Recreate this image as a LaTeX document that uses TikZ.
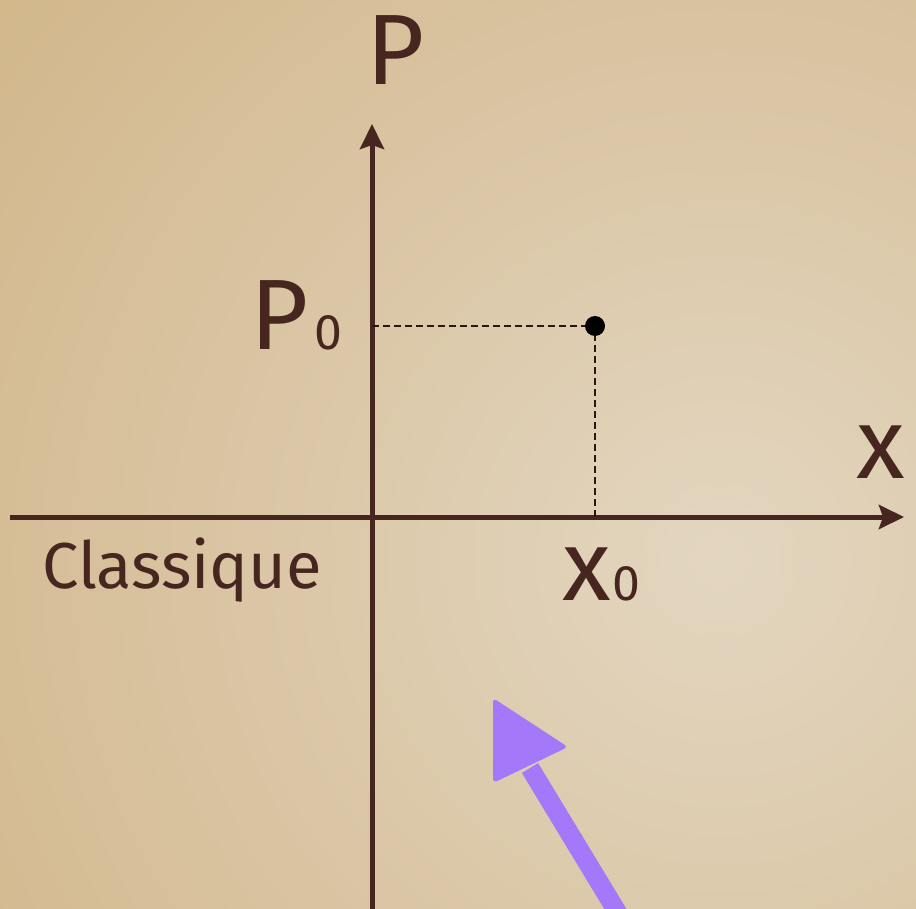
\documentclass[tikz,border=0pt]{standalone}
\usepackage{fontspec}
\setmainfont{Fira Sans}
\usetikzlibrary{arrows.meta}
\definecolor{ink}{RGB}{70,38,30}
\definecolor{paperin}{RGB}{227,214,192}
\definecolor{paperout}{RGB}{206,176,128}
\definecolor{lilac}{RGB}{165,120,250}
\begin{document}
\begin{tikzpicture}[x=1pt,y=-1pt,
  axis/.style={draw=ink,line width=5pt,-{Stealth[length=25pt,width=24pt,inset=4pt]}},
  guide/.style={draw=ink!60!black,line width=2.4pt,dash pattern=on 7pt off 4pt},
  lab/.style={text=ink,inner sep=0pt,anchor=base west},
  big/.style={font=\fontsize{100}{100}\selectfont},
  mid/.style={font=\fontsize{65}{65}\selectfont}]
\useasboundingbox (0,0) rectangle (916,909);
\clip (0,0) rectangle (916,909);
\shade[inner color=paperin,outer color=paperout] (-380,-540) rectangle (1820,1660);
\coordinate (Ybot) at (372,912);
\coordinate (Ytop) at (372,124);
\coordinate (Xl) at (10,517);
\coordinate (Xr) at (904,517);
\coordinate (Py) at (372,326);
\coordinate (Pt) at (595,326);
\coordinate (Px) at (595,517);
\draw[axis] (Ybot) -- (Ytop);
\draw[axis] (Xl) -- (Xr);
\draw[guide] (Py) -- (Pt) -- (Px);
\fill[black] (Pt) circle (10pt);
\coordinate (Atail) at (619,915);
\coordinate (Abase) at (530,768);
\draw[lilac,line width=19pt] (Atail) -- (Abase);
\fill[lilac,rounded corners=4pt] (493,698) -- (568,747) -- (493,783) -- cycle;
\node[lab,big] (Plab) at (366,85) {P};
\node[lab,big] (P0) at (250,350) {P\kern6pt{\fontsize{50}{50}\selectfont 0}};
\node[lab,big] (xlab) at (856,478) {x};
\node[lab,big] (x0) at (562,600) {x\kern2pt{\fontsize{50}{50}\selectfont 0}};
\node[lab,mid] (cl) at (42,588) {Classique};
\end{tikzpicture}
\end{document}
